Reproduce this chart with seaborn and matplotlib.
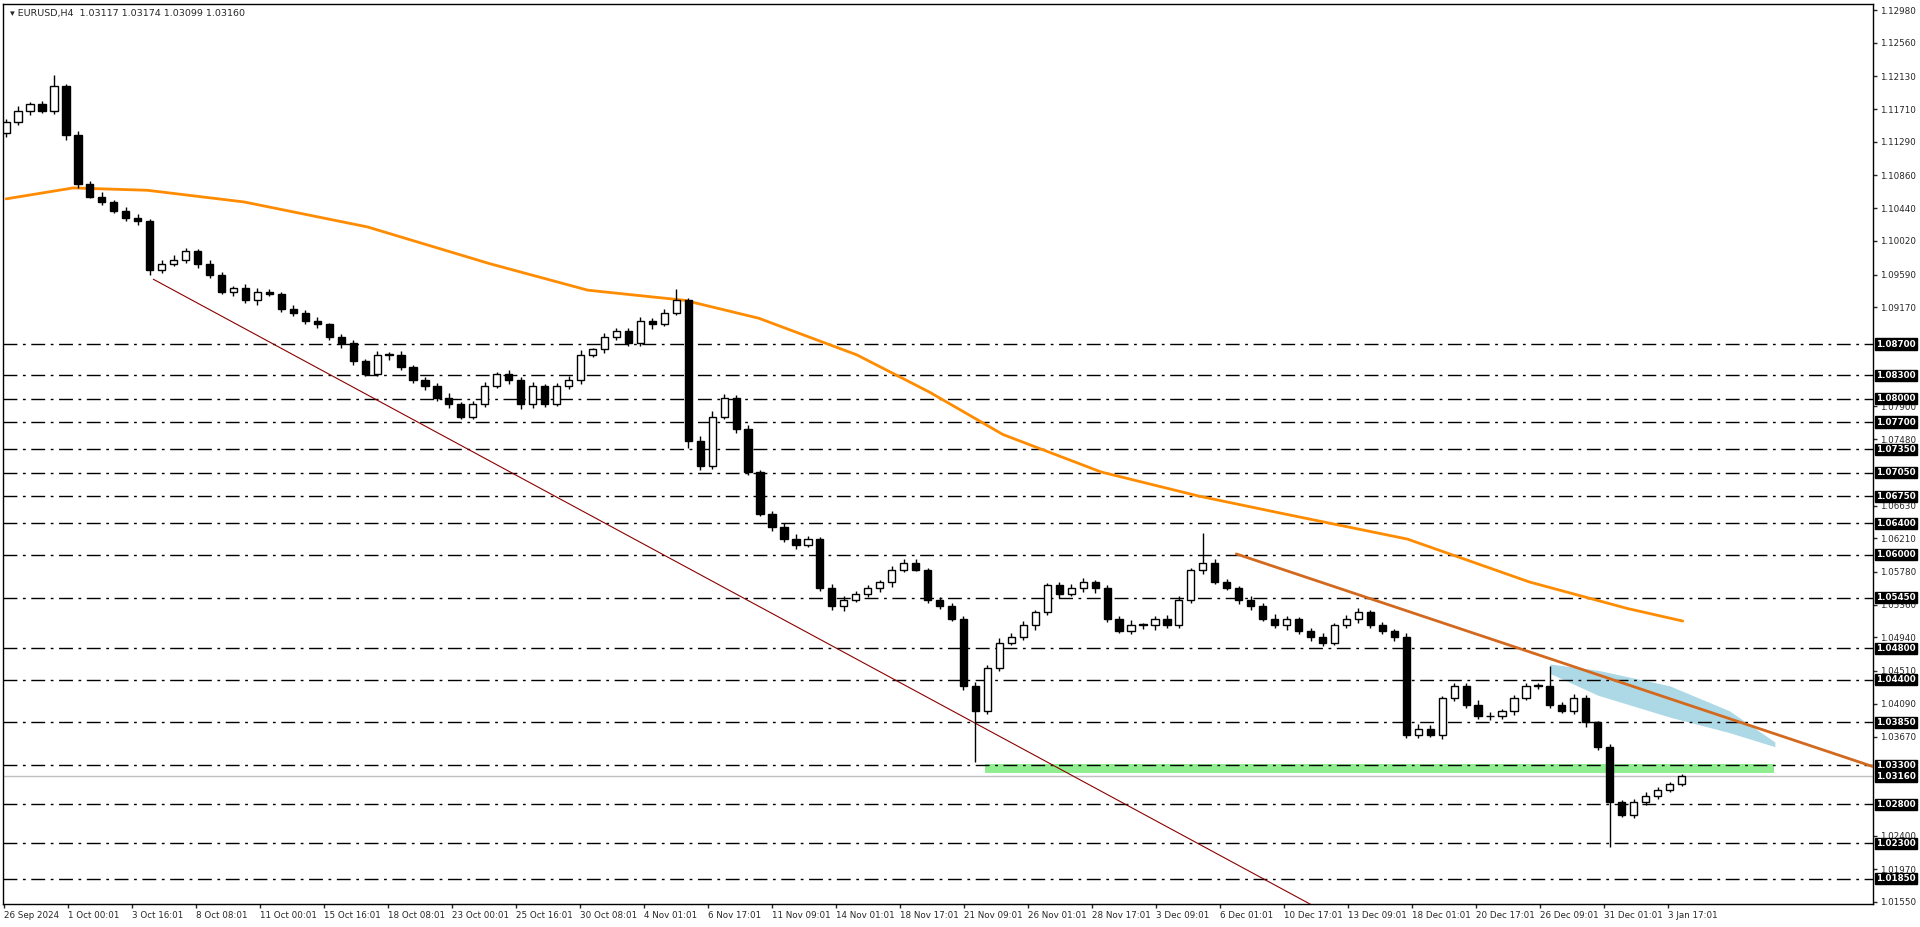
import matplotlib
matplotlib.use("Agg", force=True)
import matplotlib.pyplot as plt
import numpy as np
import pandas as pd
import seaborn as sns

# closes of the candles (reduced resolution), first open below
FIRST_OPEN = 1.1140
CLOSES = [
    1.1154, 1.1169, 1.1177, 1.1169, 1.1201, 1.1138, 1.1075, 1.1059, 1.1052, 1.1041, 1.1031, 1.1028,
    1.0965, 1.0973, 1.0978, 1.0989, 1.0973, 1.0958, 1.0937, 1.0942, 1.0926, 1.0937, 1.0934, 1.0915,
    1.0910, 1.0899, 1.0895, 1.0879, 1.0871, 1.0848, 1.0832, 1.0856, 1.0856, 1.0840, 1.0824, 1.0816,
    1.0801, 1.0793, 1.0777, 1.0793, 1.0816, 1.0832, 1.0824, 1.0793, 1.0816, 1.0793, 1.0816, 1.0824,
    1.0856, 1.0863, 1.0879, 1.0887, 1.0871, 1.0899, 1.0895, 1.0910, 1.0926,
    1.0746, 1.0714, 1.0777, 1.0801, 1.0761, 1.0706, 1.0652, 1.0636, 1.0620, 1.0612, 1.0620, 1.0557,
    1.0534, 1.0542, 1.0550, 1.0557, 1.0565, 1.0581, 1.0589, 1.0581, 1.0542, 1.0534, 1.0518, 1.0432,
    1.0400, 1.0455, 1.0487, 1.0495, 1.0510, 1.0526, 1.0561, 1.0550, 1.0557, 1.0565, 1.0557, 1.0518,
    1.0502, 1.0510, 1.0510, 1.0518, 1.0510, 1.0542, 1.0581, 1.0589, 1.0565, 1.0557, 1.0542, 1.0534,
    1.0518, 1.0510, 1.0518, 1.0502, 1.0495, 1.0487, 1.0510, 1.0518, 1.0526, 1.0510, 1.0502, 1.0495,
    1.0369, 1.0377, 1.0369, 1.0416, 1.0432, 1.0408, 1.0393, 1.0393, 1.0400, 1.0416, 1.0432, 1.0432,
    1.0408, 1.0400, 1.0416, 1.0385, 1.0353,
    1.0283, 1.0267, 1.0283, 1.0291, 1.0298, 1.0306, 1.0316,
]
# wick sizes in pips
UP_WICK = [8, 12, 6, 10, 14, 5, 9, 7, 11, 6, 8, 10, 5, 9, 12, 7, 6, 10, 8, 5, 11, 9, 7, 6, 10, 8,
           12, 5, 7, 9, 6, 11, 8, 10, 5, 7, 9, 12, 6, 8, 10, 5, 9, 7, 11, 6, 8, 10, 12, 5, 9, 7, 6,
           10, 8, 11, 9, 7, 12, 14, 9, 8, 10, 6, 7, 9, 12, 8, 5, 10, 11, 7, 9, 6, 8, 12, 10, 5, 7, 9,
           6, 11, 8, 12, 10, 9, 7, 6, 8, 10, 11, 5, 9, 7, 12, 6, 8, 10, 9, 5, 7, 11, 8, 6, 10, 9, 12,
           7, 5, 8, 10, 6, 9, 11, 7, 8, 5, 10, 12, 9, 6, 8, 7, 11, 10, 5, 9, 8, 6, 12, 7, 10, 9, 5, 8,
           6, 7, 9, 8, 5, 6, 4]
DN_WICK = [9, 7, 11, 6, 8, 12, 10, 5, 9, 7, 6, 10, 14, 8, 5, 9, 11, 7, 6, 10, 8, 12, 5, 9, 7, 6,
           10, 8, 11, 9, 7, 5, 12, 6, 8, 10, 9, 11, 7, 5, 8, 6, 10, 12, 9, 7, 5, 8, 11, 6, 10, 9, 7,
           8, 12, 5, 6, 18, 10, 8, 7, 11, 9, 6, 12, 8, 10, 5, 7, 9, 11, 6, 8, 10, 12, 7, 5, 9, 8, 6,
           10, 11, 7, 9, 5, 8, 12, 6, 10, 7, 9, 11, 8, 5, 6, 10, 12, 9, 7, 8, 11, 6, 5, 10, 9, 7, 8,
           12, 6, 11, 9, 5, 7, 10, 8, 6, 12, 9, 7, 5, 11, 8, 10, 6, 9, 7, 12, 5, 8, 10, 6, 9, 11, 7,
           8, 6, 9, 7, 8, 5, 6, 4]
SPECIAL_HIGHS = {4: 1.1215, 56: 1.0940, 100: 1.0628, 129: 1.0458}
SPECIAL_LOWS = {81: 1.0334, 134: 1.0226}

MA_X = [0, 5.6, 11.8, 19.9, 30.2, 40.4, 48.6, 56.7, 62.9, 71.1, 77.2, 83.3, 91.5, 99.7, 106.9,
        117.1, 127.3, 135.5, 140.1]
MA_Y = [1.1056, 1.1070, 1.1067, 1.1052, 1.1020, 1.0973, 1.0939, 1.0926, 1.0903, 1.0856, 1.0808,
        1.0754, 1.0706, 1.0675, 1.0652, 1.0620, 1.0565, 1.0531, 1.0515]

RED_LINE_X = [12.3, 112.5]
RED_LINE_Y = [1.0953, 1.0123]
TREND_X = [102.8, 159.8]
TREND_Y = [1.0601, 1.0309]
BAND_X = [129.0, 133.0, 139.0, 144.0, 147.8]
BAND_TOP = [1.0460, 1.0452, 1.0432, 1.0400, 1.0360]
BAND_BOT = [1.0448, 1.0420, 1.0392, 1.0372, 1.0354]
GREEN_X = [81.8, 147.7]
GREEN_Y = [1.0320, 1.0332]

LEVELS = [1.0870, 1.0830, 1.0800, 1.0770, 1.0735, 1.0705, 1.0675, 1.0640, 1.0600, 1.0545,
          1.0480, 1.0440, 1.0385, 1.0330, 1.0280, 1.0230, 1.0185]
AXIS_TICKS = [1.12980, 1.12560, 1.12130, 1.11710, 1.11290, 1.10860, 1.10440, 1.10020, 1.09590,
              1.09170, 1.07900, 1.07480, 1.06630, 1.06210, 1.05780, 1.05360, 1.04940, 1.04510,
              1.04090, 1.03670, 1.02400, 1.01970, 1.01550]
LAST_PRICE = 1.03160
DATE_LABELS = ["26 Sep 2024", "1 Oct 00:01", "3 Oct 16:01", "8 Oct 08:01", "11 Oct 00:01",
               "15 Oct 16:01", "18 Oct 08:01", "23 Oct 00:01", "25 Oct 16:01", "30 Oct 08:01",
               "4 Nov 01:01", "6 Nov 17:01", "11 Nov 09:01", "14 Nov 01:01", "18 Nov 17:01",
               "21 Nov 09:01", "26 Nov 01:01", "28 Nov 17:01", "3 Dec 09:01", "6 Dec 01:01",
               "10 Dec 17:01", "13 Dec 09:01", "18 Dec 01:01", "20 Dec 17:01", "26 Dec 09:01",
               "31 Dec 01:01", "3 Jan 17:01"]

n = len(CLOSES)
closes = np.array(CLOSES)
opens = np.concatenate([[FIRST_OPEN], closes[:-1]])
highs = np.maximum(opens, closes) + np.array(UP_WICK[:n]) * 1e-4 * 0.5
lows = np.minimum(opens, closes) - np.array(DN_WICK[:n]) * 1e-4 * 0.5
for i, v in SPECIAL_HIGHS.items():
    highs[i] = v
for i, v in SPECIAL_LOWS.items():
    lows[i] = v
df = pd.DataFrame({"x": np.arange(n), "open": opens, "close": closes, "high": highs, "low": lows})

sns.set_style("white")
plt.rcParams["font.family"] = ["DejaVu Sans"]
fig = plt.figure(figsize=(19.2, 9.27), dpi=100)
ax = fig.add_axes([3 / 1920, 1 - 904 / 927, 1870 / 1920, 900 / 927])
ymin, ymax = 1.01524, 1.13057
ax.set_ylim(ymin, ymax)
ax.set_xlim(-0.26, 156.0)

# green support zone and blue band
ax.fill_between(GREEN_X, GREEN_Y[0], GREEN_Y[1], color="#90ee90", zorder=1, lw=0)
ax.fill_between(BAND_X, BAND_BOT, BAND_TOP, color="#add8e6", zorder=1, lw=0)

for lv in LEVELS:
    ax.axhline(lv, color="black", lw=1.0, dashes=(10, 4, 2, 4), zorder=2)
ax.axhline(LAST_PRICE, color="#c0c0c0", lw=1.0, zorder=2)

ax.plot(RED_LINE_X, RED_LINE_Y, color="#8b0000", lw=0.8, zorder=3)
ax.plot(TREND_X, TREND_Y, color="#d2691e", lw=2, zorder=5)
sns.lineplot(x=MA_X, y=MA_Y, color="#ff8c00", lw=2, ax=ax, zorder=4)

# candles
up = df["close"] >= df["open"]
ax.vlines(df["x"], df["low"], df["high"], color="black", lw=1, zorder=6)
ax.bar(df["x"][up], (df["close"] - df["open"])[up].clip(lower=0.00008), bottom=df["open"][up],
       width=0.6, color="white", edgecolor="black", lw=1, zorder=7)
ax.bar(df["x"][~up], (df["open"] - df["close"])[~up], bottom=df["close"][~up],
       width=0.6, color="black", edgecolor="black", lw=1, zorder=7)

FS = 6.3
ax.yaxis.tick_right()
ax.set_yticks(AXIS_TICKS)
ax.set_yticklabels([f"{t:.5f}" for t in AXIS_TICKS], fontsize=FS)
ax.tick_params(axis="y", length=3, width=1, pad=2, direction="out", right=True)
tick_x = [(3 + 52.3 * k - 5) / 9.78 for k in range(len(DATE_LABELS))]
ax.set_xticks(tick_x)
ax.set_xticklabels(DATE_LABELS, fontsize=FS, ha="left")
ax.tick_params(axis="x", length=3, width=1, pad=2, direction="out", bottom=True)
for sp in ax.spines.values():
    sp.set_color("black")
    sp.set_linewidth(1)

for lv in LEVELS + [LAST_PRICE]:
    ax.annotate(f"{lv:.5f}", xy=(1, lv), xycoords=("axes fraction", "data"), xytext=(2.5, 0),
                textcoords="offset points", va="center", ha="left", fontsize=FS, color="white",
                fontweight="bold",
                bbox=dict(boxstyle="square,pad=0.12", fc="black", ec="black"), zorder=10,
                annotation_clip=False)

ax.text(0.004, 0.994, "\u25be EURUSD,H4  1.03117 1.03174 1.03099 1.03160", transform=ax.transAxes,
        fontsize=FS + 0.5, va="top", ha="left")

fig.savefig("out.png", dpi=100)
